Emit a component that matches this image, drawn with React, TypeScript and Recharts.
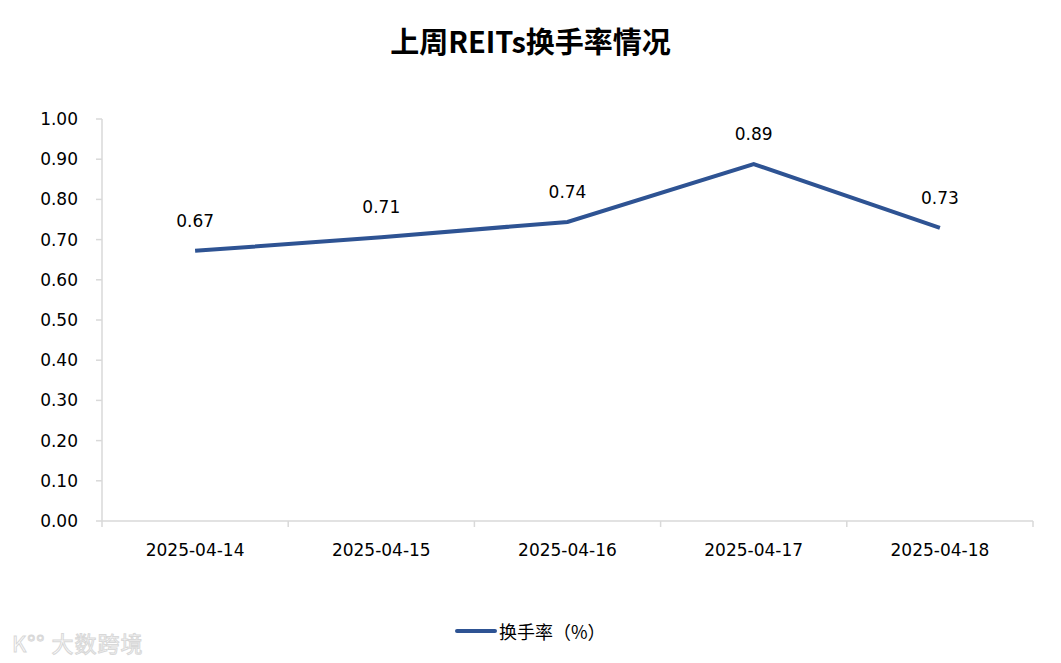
import React from 'react';
import { LineChart, Line, XAxis, YAxis, LabelList } from 'recharts';

const categories = ['2025-04-14', '2025-04-15', '2025-04-16', '2025-04-17', '2025-04-18'];
const turnover = [0.672, 0.706, 0.744, 0.888, 0.729];
const yTicks = [0, 0.1, 0.2, 0.3, 0.4, 0.5, 0.6, 0.7, 0.8, 0.9, 1.0];
const boundaryTicks = [0, 1, 2, 3, 4, 5];
const seriesName = '换手率（%）';
const title = '上周REITs换手率情况';

const data = categories.map((c, i) => ({ date: c, pos: i + 0.5, value: turnover[i] }));

const LINE_COLOR = '#2E5393';
const AXIS_COLOR = '#D9D9D9';
const NUM_FONT = '"DejaVu Sans", "Noto Sans CJK SC", sans-serif';

export default function App() {
  return (
    <div style={{ position: 'absolute', left: 0, top: 0, width: 1061, height: 663, background: '#fff', fontFamily: '"Noto Sans CJK SC", sans-serif' }}>
      <div style={{ position: 'absolute', left: 0, top: 20, width: 1061, textAlign: 'center', fontSize: 29, fontWeight: 700, color: '#000', lineHeight: '40px', fontFamily: '"Noto Sans CJK SC", sans-serif' }}>
        {title}
      </div>
      <LineChart width={1061} height={663} data={data} margin={{ top: 119, right: 28, bottom: 96, left: 0 }}>
        <XAxis
          xAxisId="a_grid"
          dataKey="pos"
          type="number"
          domain={[0, 5]}
          ticks={boundaryTicks}
          interval={0}
          tickFormatter={() => ''}
          tickSize={6}
          height={6}
          axisLine={{ stroke: AXIS_COLOR, strokeWidth: 1.5 }}
          tickLine={{ stroke: AXIS_COLOR, strokeWidth: 1.5 }}
          allowDataOverflow
        />
        <XAxis
          xAxisId="b_cat"
          dataKey="date"
          type="category"
          scale="band"
          axisLine={false}
          tickLine={false}
          tickSize={0}
          tickMargin={17}
          height={40}
          interval={0}
          tick={{ fill: '#000', fontSize: 17, fontFamily: NUM_FONT }}
        />
        <YAxis
          width={102}
          domain={[0, 1]}
          ticks={yTicks}
          interval={0}
          tickFormatter={(v: number) => v.toFixed(2)}
          tickSize={6}
          tickMargin={18}
          axisLine={{ stroke: AXIS_COLOR, strokeWidth: 1.5 }}
          tickLine={{ stroke: AXIS_COLOR, strokeWidth: 1.5 }}
          tick={{ fill: '#000', fontSize: 17, fontFamily: NUM_FONT }}
        />
        <Line
          xAxisId="a_grid"
          dataKey="value"
          name={seriesName}
          stroke={LINE_COLOR}
          strokeWidth={4}
          dot={false}
          activeDot={false}
          isAnimationActive={false}
        >
          <LabelList
            dataKey="value"
            position="top"
            offset={24}
            formatter={(v: number) => v.toFixed(2)}
            style={{ fill: '#000', fontSize: 17, fontFamily: NUM_FONT }}
          />
        </Line>
      </LineChart>
      <div style={{ position: 'absolute', left: 455, top: 618, display: 'flex', alignItems: 'center', height: 26 }}>
        <div style={{ width: 42, height: 4, background: LINE_COLOR, borderRadius: 2 }} />
        <span style={{ marginLeft: 2, fontSize: 18, color: '#000', fontFamily: '"Noto Sans CJK SC", sans-serif' }}>{seriesName}</span>
      </div>
      <div style={{ position: 'absolute', left: 12, top: 626, fontSize: 22, fontWeight: 400, color: '#fff', WebkitTextStroke: '1px #d8d8d8', fontFamily: '"Noto Sans CJK SC", sans-serif', letterSpacing: 1 }}>
        K°° 大数跨境
      </div>
    </div>
  );
}
